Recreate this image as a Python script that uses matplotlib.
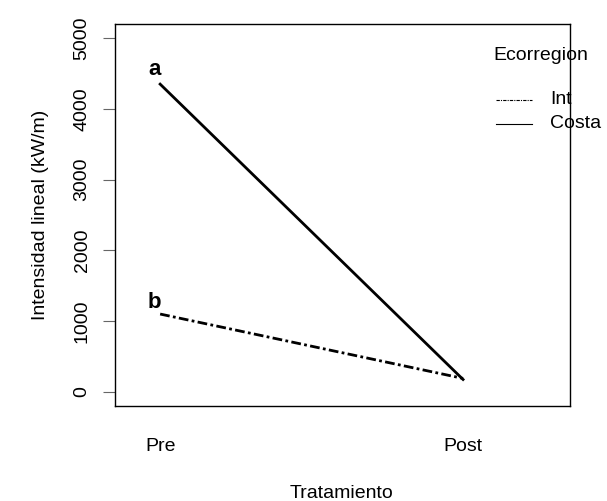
import matplotlib
matplotlib.use("Agg")
import matplotlib.pyplot as plt
from matplotlib.lines import Line2D

plt.rcParams['font.family'] = ['Liberation Sans', 'DejaVu Sans']

# data
tratamiento = ["Pre", "Post"]
costa = [4350, 175]
interior = [1100, 190]
letras = ["a", "b"]
yticks = [0, 1000, 2000, 3000, 4000, 5000]
leyenda = ["Int", "Costa"]

W, H = 607, 501
fig = plt.figure(figsize=(W / 100, H / 100), dpi=100)
ax = fig.add_axes([115 / W, 1 - 406 / H, 455 / W, 382 / H])

x = [1, 2]
dotdash = (0, (3.5, 1.2, 1, 1.2))
ax.plot(x, interior, color='black', lw=2.0, linestyle=dotdash)
ax.plot(x, costa, color='black', lw=2.0)

# letters at Pre
ax.text(0.98, costa[0] + 60, letras[0], fontsize=16, fontweight='bold', ha='center', va='bottom')
ax.text(0.98, interior[0] + 20, letras[1], fontsize=16, fontweight='bold', ha='center', va='bottom')

ax.set_xlim(0.851, 2.353)
ax.set_ylim(-200, 5200)
ax.set_xticks(x)
ax.set_xticklabels(tratamiento, fontsize=14)
ax.tick_params(axis='x', length=0, pad=23)
ax.set_yticks(yticks)
ax.set_yticklabels([str(v) for v in yticks], fontsize=14)
ax.tick_params(axis='y', length=8.5, color='#666666', pad=9, labelrotation=90)
for lab in ax.get_yticklabels():
    lab.set_va('center')
for sp in ax.spines.values():
    sp.set_linewidth(1.0)

fig.text(342 / W, 1 - 498 / H, "Tratamiento", fontsize=14, ha='center', va='baseline')
fig.text(41 / W, 1 - 215 / H, "Intensidad lineal (kW/m)", fontsize=14,
         ha='center', va='center', rotation=90)

# legend drawn by hand
fig.text(493 / W, 1 - 55 / H, "Ecorregion", fontsize=14, ha='left', va='center')
estilos = [(0, (3, 1, 1, 1)), '-']
filas = [100, 124]
for lab, ls, py in zip(leyenda, estilos, filas):
    fig.add_artist(Line2D([496 / W, 532 / W], [1 - py / H, 1 - py / H],
                          color='black', lw=0.8, linestyle=ls))
    fig.text(550 / W, 1 - py / H, lab, fontsize=14, ha='left', va='center')

fig.savefig("out.png", dpi=100)
